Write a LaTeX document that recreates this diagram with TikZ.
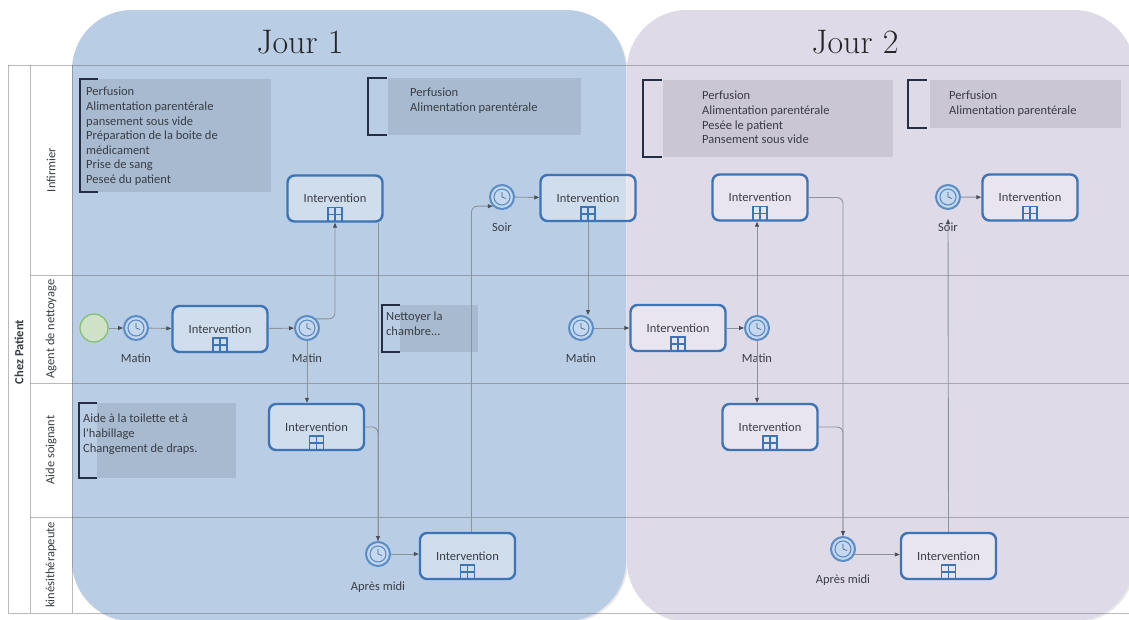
\documentclass[tikz,border=0pt]{standalone}
\usepackage{fontspec}
\newfontfamily\bpmnfont{Carlito}
\usetikzlibrary{arrows.meta,shadows}

\definecolor{dayone}{HTML}{B9CDE5}
\definecolor{daytwo}{HTML}{DFDAE8}
\definecolor{bpmnblue}{HTML}{3D74B6}
\definecolor{timerblue}{HTML}{5A8CC6}
\definecolor{timerfill}{HTML}{C6D8EE}
\definecolor{startgreen}{HTML}{86BE72}
\definecolor{startfill}{HTML}{CFE2C8}
\definecolor{flowgray}{HTML}{8C939C}
\definecolor{tipgray}{HTML}{4A4F57}
\definecolor{notedark}{HTML}{262E44}
\definecolor{txtgray}{HTML}{3A3D44}

\tikzset{
  day/.style={rounded corners=60pt, drop shadow={opacity=0.18, shadow xshift=1.5pt, shadow yshift=-1.5pt}},
  title/.style={font=\fontsize{34}{40}\selectfont, text=black!85},
  pool/.style={draw=black!60, draw opacity=0.45, line width=1pt},
  lane/.style={rotate=90, font=\bpmnfont\fontsize{12.5}{14}\selectfont, text=txtgray},
  lbl/.style={font=\bpmnfont\fontsize{12.5}{14}\selectfont, text=txtgray, yshift=-9pt},
  note/.style={fill=black, fill opacity=0.09},
  bracket/.style={draw=notedark, line width=2.8pt},
  notetext/.style={anchor=north west, inner sep=0pt, align=left, font=\bpmnfont\fontsize{12.5}{14.6}\selectfont, text=txtgray},
  task/.style={rectangle, rounded corners=7pt, draw=bpmnblue, line width=2.4pt, fill=white, fill opacity=0.32, text opacity=1,
    minimum width=95pt, minimum height=46pt, inner sep=0pt, font=\bpmnfont\fontsize{12.5}{14}\selectfont, text=txtgray,
    path picture={
      \draw[bpmnblue, line width=1.2pt, sharp corners]
        ([xshift=-7pt,yshift=0pt]path picture bounding box.south) rectangle ([xshift=7pt,yshift=14pt]path picture bounding box.south)
        ([yshift=0pt]path picture bounding box.south) -- ([yshift=14pt]path picture bounding box.south)
        ([xshift=-7pt,yshift=7pt]path picture bounding box.south) -- ([xshift=7pt,yshift=7pt]path picture bounding box.south);
    }},
  timer/.style={circle, draw=timerblue, line width=2pt, fill=timerfill, minimum size=24pt, inner sep=0pt,
    path picture={
      \draw[timerblue, line width=1.1pt] (path picture bounding box.center) circle (8pt);
      \draw[timerblue!70!black, line width=0.6pt] ([yshift=5pt]path picture bounding box.center) -- (path picture bounding box.center)
        -- ([xshift=4pt,yshift=-1.5pt]path picture bounding box.center);
    }},
  start/.style={circle, draw=startgreen, line width=1.3pt, fill=startfill, minimum size=28pt, inner sep=0pt},
  link/.style={draw=flowgray, line width=0.9pt, rounded corners=6pt},
  flow/.style={link, -{Triangle[length=5pt,width=4pt,color=tipgray]}}
}

\begin{document}
\begin{tikzpicture}[x=1pt, y=-1pt]
  \useasboundingbox (0,0) rectangle (1129,619);
  \fill[white] (0,0) rectangle (1129,619);

  % jours
  \fill[dayone, day] (72,10) rectangle (626,621);
  \fill[daytwo, day] (627,10) rectangle (1134,621);
  \node[title] (j1) at (300,42) {Jour 1};
  \node[title] (j2) at (855,42) {Jour 2};

  % piscine et couloirs
  \draw[pool] (8,65) -- (1134,65);
  \draw[pool] (8,65) -- (8,613) -- (1134,613);
  \draw[pool] (30,65) -- (30,613);
  \draw[pool] (72,65) -- (72,613);
  \foreach \y in {275,383,517}
    \draw[pool] (30,\y) -- (1134,\y);

  \node[lane, font=\bpmnfont\bfseries\fontsize{12.5}{14}\selectfont] (chez) at (19,352) {Chez Patient};
  \node[lane] (linf) at (51,170) {Infirmier};
  \node[lane] (lagt) at (51,329) {Agent de nettoyage};
  \node[lane] (lads) at (51,450) {Aide soignant};
  \node[lane] (lkin) at (51,565) {kinésithérapeute};

  % annotations
  \fill[note] (80,79) rectangle (271,192);
  \draw[bracket] (98,79) -- (80,79) -- (80,192) -- (98,192);
  \node[notetext] (n1) at (86,87) {Perfusion\\Alimentation parentérale\\pansement sous vide\\Préparation de la boite de\\médicament\\Prise de sang\\Peseé du patient};

  \fill[note] (388,78) rectangle (581,135);
  \draw[bracket] (387,78) -- (368,78) -- (368,135) -- (387,135);
  \node[notetext] (n2) at (410,88) {Perfusion\\Alimentation parentérale};

  \fill[note] (400,305) rectangle (478,352);
  \draw[bracket] (400,305) -- (382,305) -- (382,352) -- (400,352);
  \node[notetext] (n3) at (386,312) {Nettoyer la\\chambre...};

  \fill[note] (97,403) rectangle (236,478);
  \draw[bracket] (97,403) -- (79,403) -- (79,478) -- (97,478);
  \node[notetext] (n4) at (83,414) {Aide à la toilette et à\\l'habillage\\Changement de draps.};

  \fill[note] (663,80) rectangle (893,157);
  \draw[bracket] (662,80) -- (643,80) -- (643,157) -- (662,157);
  \node[notetext] (n5) at (702,91) {Perfusion\\Alimentation parentérale\\Pesée le patient\\Pansement sous vide};

  \fill[note] (930,80) rectangle (1121,128);
  \draw[bracket] (927,80) -- (908,80) -- (908,128) -- (927,128);
  \node[notetext] (n6) at (949,91) {Perfusion\\Alimentation parentérale};

  % taches
  \node[task] (inf1) at (335,198.5) {Intervention};
  \node[task] (inf2) at (588,198) {Intervention};
  \node[task] (inf3) at (760,197.5) {Intervention};
  \node[task] (inf4) at (1030,197.5) {Intervention};
  \node[task] (ag1) at (220,329) {Intervention};
  \node[task] (ag2) at (678,328) {Intervention};
  \node[task] (as1) at (316.5,427) {Intervention};
  \node[task] (as2) at (770,427) {Intervention};
  \node[task] (k1) at (467.5,556) {Intervention};
  \node[task] (k2) at (948.5,556) {Intervention};

  % evenements
  \node[start] (st) at (94,328) {};
  \node[timer, label={[lbl]below:Matin}] (m1) at (136,328) {};
  \node[timer, label={[lbl]below:Matin}] (m2) at (307,328) {};
  \node[timer, label={[lbl]below:Matin}] (m3) at (581,328) {};
  \node[timer, label={[lbl]below:Matin}] (m4) at (757,328) {};
  \node[timer, label={[lbl]below:Soir}] (s1) at (502,197) {};
  \node[timer, label={[lbl, name=s2l]below:Soir}] (s2) at (948,197) {};
  \node[timer, label={[lbl, yshift=-2pt]below:Après midi}] (a1) at (378,554) {};
  \node[timer, label={[lbl]below:Après midi}] (a2) at (843,549) {};

  % flux
  \draw[flow] (st) -- (m1);
  \draw[flow] (m1) -- (ag1);
  \draw[flow] (ag1) -- (m2);
  \draw[flow] (m2.north east) -| (inf1.south);
  \draw[flow] (m2.south) -- (m2.south |- as1.north);
  \draw[link] (as1.east) -| (a1.north);
  \draw[flow] (inf1.south -| a1) -- (a1.north);
  \draw[flow] (a1.east) -- (a1.east -| k1.west);
  \draw[flow] ([xshift=4pt]k1.north) |- (s1.south west);
  \draw[flow] (s1) -- (inf2);
  \draw[flow] (inf2.south) -- (inf2.south |- m3.north);
  \draw[flow] (m3) -- (ag2);
  \draw[flow] (ag2) -- (m4);
  \draw[flow] (m4.north) -- (m4.north |- inf3.south);
  \draw[flow] (m4.south) -- (m4.south |- as2.north);
  \draw[link] (as2.east) -| (a2.north);
  \draw[flow] (inf3.east) -| (a2.north);
  \draw[flow] (a2.-25) -- (a2.-25 -| k2.west);
  \draw[flow] (k2.north) -- (s2l.north);
  \draw[flow] (s2) -- (inf4);
\end{tikzpicture}
\end{document}
